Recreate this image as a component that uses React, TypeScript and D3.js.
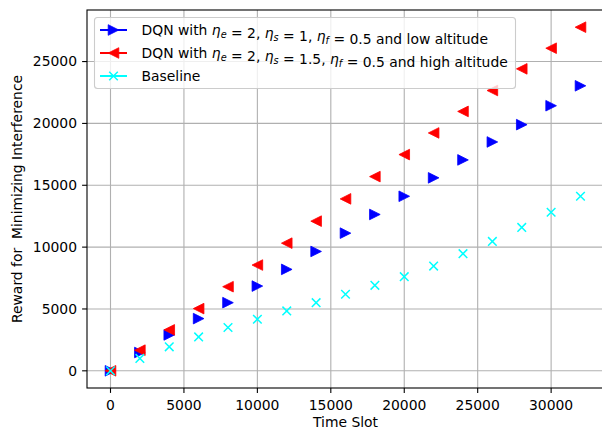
import { useEffect, useRef } from "react";
import * as d3 from "d3";

const timeSlots = [0, 2000, 4000, 6000, 8000, 10000, 12000, 14000, 16000, 18000, 20000, 22000, 24000, 26000, 28000, 30000, 32000];
const lowAltitude = [0, 1480, 2900, 4220, 5510, 6850, 8200, 9650, 11130, 12640, 14110, 15600, 17050, 18500, 19900, 21430, 23040];
const highAltitude = [0, 1670, 3310, 5030, 6800, 8550, 10320, 12100, 13900, 15700, 17480, 19230, 20970, 22660, 24410, 26080, 27780];
const baseline = [0, 1000, 1940, 2740, 3500, 4170, 4840, 5510, 6190, 6910, 7610, 8470, 9470, 10460, 11590, 12820, 14110];
const xTicks = [0, 5000, 10000, 15000, 20000, 25000, 30000];
const yTicks = [0, 5000, 10000, 15000, 20000, 25000];

const FONT = "DejaVu Sans, sans-serif";

const App = () => {
  const svgRef = useRef<SVGSVGElement>(null);

  useEffect(() => {
    const svg = d3.select(svgRef.current);
    svg.selectAll("*").remove();

    const left = 87;
    const right = 604;
    const top = 10;
    const bottom = 388;

    const xMax = d3.max(timeSlots) as number;
    const yMax = d3.max([...lowAltitude, ...highAltitude, ...baseline]) as number;

    const x = d3
      .scaleLinear()
      .domain([-0.05 * xMax, xMax * 1.05])
      .range([left, right]);
    const y = d3
      .scaleLinear()
      .domain([-0.05 * yMax, yMax * 1.05])
      .range([bottom, top]);

    // grid
    svg
      .append("g")
      .selectAll("line")
      .data(xTicks)
      .enter()
      .append("line")
      .attr("x1", (d) => x(d))
      .attr("x2", (d) => x(d))
      .attr("y1", top)
      .attr("y2", bottom)
      .attr("stroke", "#b0b0b0")
      .attr("stroke-width", 1.1);
    svg
      .append("g")
      .selectAll("line")
      .data(yTicks)
      .enter()
      .append("line")
      .attr("x1", left)
      .attr("x2", right)
      .attr("y1", (d) => y(d))
      .attr("y2", (d) => y(d))
      .attr("stroke", "#b0b0b0")
      .attr("stroke-width", 1.1);

    const tri = (dir: number) => {
      const s = 5.3;
      return `M${dir * s},0L${-dir * s},${-s}L${-dir * s},${s}Z`;
    };

    const drawTri = (g: any, px: number, py: number, color: string, dir: number) => {
      g.append("path")
        .attr("d", tri(dir))
        .attr("transform", `translate(${px},${py})`)
        .attr("fill", color)
        .attr("stroke", color)
        .attr("stroke-width", 0.8)
        .attr("stroke-linejoin", "miter");
    };

    const drawX = (g: any, px: number, py: number, color: string) => {
      const s = 4.3;
      g.append("path")
        .attr("d", `M${-s},${-s}L${s},${s}M${-s},${s}L${s},${-s}`)
        .attr("transform", `translate(${px},${py})`)
        .attr("stroke", color)
        .attr("stroke-width", 1.5)
        .attr("fill", "none");
    };

    const marks = svg.append("g");
    timeSlots.forEach((t, i) => drawTri(marks, x(t), y(lowAltitude[i]), "#0000ff", 1));
    timeSlots.forEach((t, i) => drawTri(marks, x(t), y(highAltitude[i]), "#ff0000", -1));
    timeSlots.forEach((t, i) => drawX(marks, x(t), y(baseline[i]), "#00ffff"));

    // spines
    svg
      .append("rect")
      .attr("x", left)
      .attr("y", top)
      .attr("width", right - left)
      .attr("height", bottom - top)
      .attr("fill", "none")
      .attr("stroke", "#000")
      .attr("stroke-width", 1.1);

    // ticks
    const xt = svg.append("g");
    xTicks.forEach((d) => {
      xt.append("line")
        .attr("x1", x(d))
        .attr("x2", x(d))
        .attr("y1", bottom)
        .attr("y2", bottom + 4.9)
        .attr("stroke", "#000")
        .attr("stroke-width", 1.1);
      xt.append("text")
        .attr("x", x(d))
        .attr("y", bottom + 22)
        .attr("text-anchor", "middle")
        .style("font-family", FONT)
        .style("font-size", "13.9px")
        .text(d);
    });
    const yt = svg.append("g");
    yTicks.forEach((d) => {
      yt.append("line")
        .attr("x1", left - 4.9)
        .attr("x2", left)
        .attr("y1", y(d))
        .attr("y2", y(d))
        .attr("stroke", "#000")
        .attr("stroke-width", 1.1);
      yt.append("text")
        .attr("x", left - 10)
        .attr("y", y(d))
        .attr("dy", "0.35em")
        .attr("text-anchor", "end")
        .style("font-family", FONT)
        .style("font-size", "13.9px")
        .text(d);
    });

    svg
      .append("text")
      .attr("x", (left + right) / 2)
      .attr("y", 426.5)
      .attr("text-anchor", "middle")
      .style("font-family", FONT)
      .style("font-size", "13.9px")
      .text("Time Slot");

    svg
      .append("text")
      .attr("transform", `translate(22,${(top + bottom) / 2}) rotate(-90)`)
      .attr("text-anchor", "middle")
      .attr("xml:space", "preserve")
      .style("font-family", FONT)
      .style("font-size", "13.9px")
      .style("white-space", "pre")
      .text("Reward for  Minimizing Interference");

    // legend
    const legend = svg.append("g");
    legend
      .append("rect")
      .attr("x", 94.5)
      .attr("y", 17.5)
      .attr("width", 421)
      .attr("height", 71)
      .attr("rx", 3)
      .attr("fill", "#fff")
      .attr("fill-opacity", 0.8)
      .attr("stroke", "#cccccc")
      .attr("stroke-width", 1.1);

    const legendData = [
      { color: "#0000ff", kind: "right", es: "1", high: false },
      { color: "#ff0000", kind: "left", es: "1.5", high: true },
      { color: "#00ffff", kind: "x", es: "", high: false },
    ];

    legendData.forEach((d, i) => {
      const ly = 30 + i * 23;
      legend
        .append("line")
        .attr("x1", 100)
        .attr("x2", 127)
        .attr("y1", ly)
        .attr("y2", ly)
        .attr("stroke", d.color)
        .attr("stroke-width", 2);
      if (d.kind === "x") drawX(legend, 113.5, ly, d.color);
      else drawTri(legend, 113.5, ly, d.color, d.kind === "right" ? 1 : -1);

      const text = legend
        .append("text")
        .attr("x", 141.5)
        .attr("y", ly)
        .attr("dy", "0.35em")
        .attr("xml:space", "preserve")
        .style("font-family", FONT)
        .style("font-size", "13.9px");

      if (d.kind === "x") {
        text.text("Baseline");
        return;
      }
      const eta = (sub: string) => {
        text.append("tspan").style("font-style", "italic").text("η");
        text.append("tspan").attr("dy", 3).style("font-size", "9.7px").style("font-style", "italic").text(sub);
        text.append("tspan").attr("dy", -3).text("");
      };
      text.append("tspan").text("DQN with ");
      eta("e");
      text.append("tspan").text(" = 2, ");
      eta("s");
      text.append("tspan").text(` = ${d.es}, `);
      eta("f");
      text.append("tspan").text(` = 0.5 and ${d.high ? "high" : "low"} altitude`);
    });
  }, []);

  return (
    <div>
      <svg
        ref={svgRef}
        width={602}
        height={430}
        style={{ position: "absolute", left: 0, top: 0, background: "#fff" }}
      ></svg>
    </div>
  );
};

export default App;
